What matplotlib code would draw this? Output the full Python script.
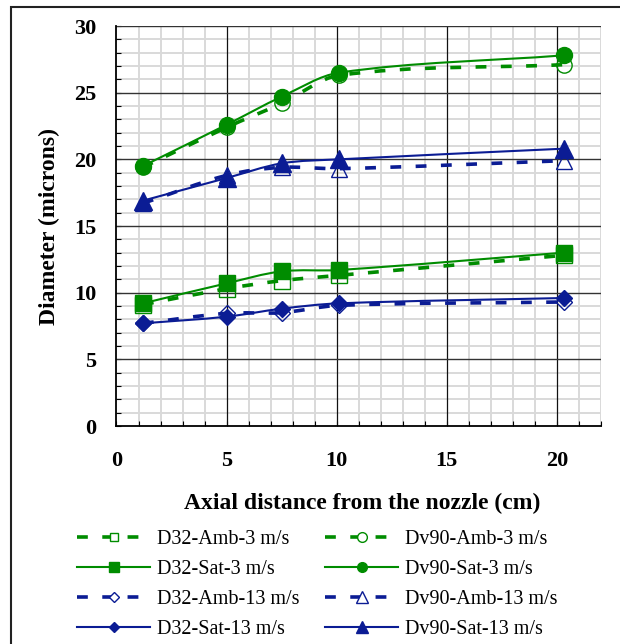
import numpy as np
import matplotlib.pyplot as plt
from matplotlib.path import Path
from matplotlib.patches import PathPatch, Rectangle
from matplotlib.lines import Line2D
from matplotlib.ticker import MultipleLocator

plt.rcParams['font.family'] = ['Liberation Serif', 'DejaVu Serif']

# axial measurement stations (cm)
axial_cm = [1.2, 5.0, 7.5, 10.1, 20.3]

# droplet diameters (microns)
d32_amb_3 = [9.1, 10.3, 10.9, 11.3, 12.8]
d32_sat_3 = [9.2, 10.7, 11.6, 11.7, 13.0]
dv90_amb_3 = [19.4, 22.4, 24.2, 26.3, 27.1]
dv90_sat_3 = [19.5, 22.6, 24.7, 26.5, 27.8]
d32_amb_13 = [7.7, 8.45, 8.5, 9.05, 9.3]
d32_sat_13 = [7.7, 8.2, 8.8, 9.2, 9.6]
dv90_amb_13 = [16.7, 18.8, 19.4, 19.3, 19.9]
dv90_sat_13 = [16.9, 18.6, 19.7, 20.0, 20.8]

GREEN = '#008c00'
BLUE = '#0b1c94'
DASH = (0, (3, 4))

# label, values, colour, marker, filled, dashed, marker size, legend marker size
series = [
    ('D32-Amb-3 m/s', d32_amb_3, GREEN, 's', False, True, 11.0, 6.0),
    ('D32-Sat-3 m/s', d32_sat_3, GREEN, 's', True, False, 11.3, 7.0),
    ('D32-Amb-13 m/s', d32_amb_13, BLUE, 'D', False, True, 8.0, 5.5),
    ('D32-Sat-13 m/s', d32_sat_13, BLUE, 'D', True, False, 8.1, 5.5),
    ('Dv90-Amb-3 m/s', dv90_amb_3, GREEN, 'o', False, True, 11.0, 7.0),
    ('Dv90-Sat-3 m/s', dv90_sat_3, GREEN, 'o', True, False, 11.5, 7.0),
    ('Dv90-Amb-13 m/s', dv90_amb_13, BLUE, '^', False, True, 12.0, 8.0),
    ('Dv90-Sat-13 m/s', dv90_sat_13, BLUE, '^', True, False, 12.5, 8.0),
]


def smooth_path(x, y):
    # cubic Bezier segments through the points, slopes from neighbours
    x = np.asarray(x, float)
    y = np.asarray(y, float)
    n = len(x)
    slope = np.empty(n)
    for i in range(n):
        a, b = max(i - 1, 0), min(i + 1, n - 1)
        slope[i] = (y[b] - y[a]) / (x[b] - x[a])
    verts = [(x[0], y[0])]
    codes = [Path.MOVETO]
    for i in range(n - 1):
        h = (x[i + 1] - x[i]) / 3
        verts += [(x[i] + h, y[i] + slope[i] * h),
                  (x[i + 1] - h, y[i + 1] - slope[i + 1] * h),
                  (x[i + 1], y[i + 1])]
        codes += [Path.CURVE4] * 3
    return Path(verts, codes)


fig = plt.figure(figsize=(6.2, 6.44), dpi=100)
ax = fig.add_axes([0.1879, 0.3385, 0.7815, 0.6211])

handles = []
for label, vals, color, marker, filled, dashed, ms, ms_leg in series:
    ls = DASH if dashed else '-'
    lw = 2.6 if dashed else 1.5
    ax.add_patch(PathPatch(smooth_path(axial_cm, vals), fill=False,
                           edgecolor=color, lw=lw, linestyle=ls,
                           capstyle='butt', zorder=3))
    ax.plot(axial_cm, vals, linestyle='none', marker=marker, ms=ms,
            mfc=color if filled else 'none', mec=color,
            mew=1.0, zorder=5 if filled else 4)
    handles.append(Line2D([], [], color=color, lw=lw, linestyle=ls,
                          marker=marker, ms=ms_leg,
                          mfc=color if filled else 'white', mec=color,
                          mew=1.0))

ax.set_xlim(0, 22)
ax.set_ylim(0, 30)
ax.xaxis.set_major_locator(MultipleLocator(5))
ax.xaxis.set_minor_locator(MultipleLocator(1))
ax.yaxis.set_major_locator(MultipleLocator(5))
ax.yaxis.set_minor_locator(MultipleLocator(1))

# light minor grid, darker major lines drawn on top of it
ax.set_axisbelow(True)
ax.grid(which='minor', color='#d9d9d9', lw=1.4)
for v in ax.get_xticks():
    if 0 < v <= 22:
        ax.axvline(v, color='#111111', lw=0.9, zorder=1)
for v in ax.get_yticks():
    if 0 < v <= 30:
        ax.axhline(v, color='#333333', lw=1.0, zorder=1)

for side in ('top', 'right'):
    ax.spines[side].set_visible(False)
for side in ('left', 'bottom'):
    ax.spines[side].set_linewidth(1.3)

ax.tick_params(which='both', direction='in', length=3.6, width=0.8,
               color='black')
ax.tick_params(axis='x', which='major', pad=18)
ax.tick_params(axis='y', which='major', pad=14.3)
for lab in ax.get_xticklabels() + ax.get_yticklabels():
    lab.set_fontsize(16)
    lab.set_fontweight('bold')

ax.set_xlabel('Axial distance from the nozzle (cm)', fontsize=17,
              fontweight='bold')
ax.xaxis.set_label_coords(0.507, -0.1925)
ax.xaxis.label.set_va('center')
ax.set_ylabel('Diameter (microns)', fontsize=17, fontweight='bold')
ax.yaxis.set_label_coords(-0.139, 0.5)
ax.yaxis.label.set_va('center')

fig.legend(handles=handles, labels=[s[0] for s in series], ncol=2,
           loc='upper left', bbox_to_anchor=(0.1237, 0.177),
           frameon=False, fontsize=14.5, borderpad=0, borderaxespad=0,
           handlelength=3.66, handletextpad=0.33, columnspacing=1.25,
           labelspacing=0.54)

# outer chart frame
fig.add_artist(Rectangle((11 / 620, -0.05), 1.2, 0.989 + 0.05,
                         transform=fig.transFigure, fill=False,
                         edgecolor='#222222', lw=1.5))

fig.savefig('out.png', dpi=100)
